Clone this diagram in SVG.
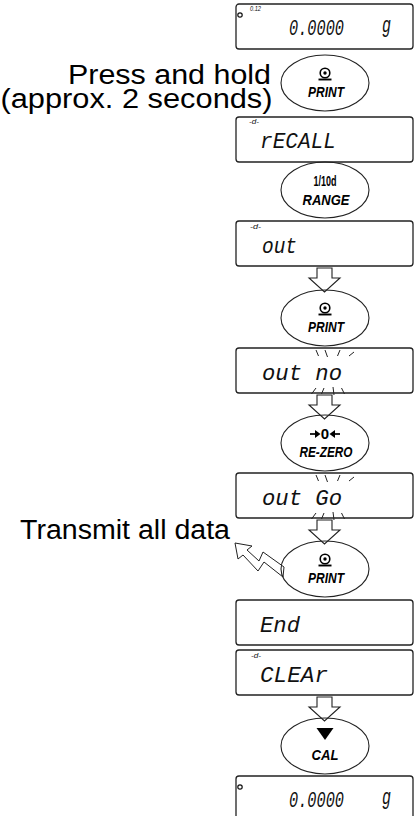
<svg xmlns="http://www.w3.org/2000/svg" width="416" height="816" viewBox="0 0 416 816">
<style>
.box{fill:#fff;stroke:#222;stroke-width:1.3}
.key{fill:none;stroke:#222;stroke-width:1.1}
.arr{fill:none;stroke:#222;stroke-width:1.1}
.flash{stroke:#222;stroke-width:1;fill:none}
.seg{font-family:"Liberation Mono","DejaVu Sans Mono",monospace;font-style:italic;font-size:22px;fill:#111}
.tiny{font-family:"Liberation Sans",Arial,sans-serif;font-style:italic;font-size:7px;fill:#111}
.kl{font-family:"Liberation Sans",Arial,sans-serif;font-weight:bold;font-style:italic;font-size:15px;fill:#000;text-anchor:middle}
.ku{font-family:"Liberation Sans",Arial,sans-serif;font-weight:bold;font-size:15px;fill:#000;text-anchor:middle}
.note{font-family:"Liberation Sans",Arial,sans-serif;font-size:27px;fill:#000}
</style>
<defs>
<g id="printsym">
<circle cx="0" cy="-10" r="4.8" fill="none" stroke="#000" stroke-width="1.6"/>
<circle cx="0" cy="-10" r="1.7" fill="#000"/>
<line x1="-6.5" y1="-3.5" x2="6.5" y2="-3.5" stroke="#000" stroke-width="1.9"/>
</g>
</defs>

<text class="note" x="271" y="84" text-anchor="end" textLength="203" lengthAdjust="spacingAndGlyphs">Press and hold</text>
<text class="note" x="0.5" y="108" textLength="272" lengthAdjust="spacingAndGlyphs">(approx. 2 seconds)</text>
<text class="note" x="20" y="539" font-size="28" textLength="210" lengthAdjust="spacingAndGlyphs">Transmit all data</text>

<g id="connectors">
<polygon class="arr" points="317,268 332,268 332,278 340,278 324.5,292 309,278 317,278"/>
<polygon class="arr" points="317,395 332,395 332,405 340,405 324.5,419 309,405 317,405"/>
<polygon class="arr" points="317,520 332,520 332,530 340,530 324.5,544 309,530 317,530"/>
<polygon class="arr" points="317,697 332,697 332,707 340,707 324.5,721 309,707 317,707"/>
<polygon fill="#fff" stroke="#222" stroke-width="1" points="235,543 252,546 247,550 259,561 263,552 284,567 283,577 264,562 258,571 243,555 238,559"/>
</g>

<g id="display1">
<rect class="box" x="236" y="4" width="177" height="45" rx="3"/>
<circle cx="240" cy="15" r="2.2" fill="none" stroke="#111" stroke-width="1.2"/>
<text class="tiny" x="250" y="11" textLength="11" lengthAdjust="spacingAndGlyphs">0.12</text>
<text class="seg" x="289" y="35" textLength="55" lengthAdjust="spacingAndGlyphs">0.0000</text>
<text class="seg" x="382" y="32" font-size="18" textLength="9" lengthAdjust="spacingAndGlyphs">g</text>
</g>

<g id="key-print1">
<ellipse class="key" cx="325" cy="83" rx="44" ry="28"/>
<use href="#printsym" x="325" y="83"/>
<text class="kl" x="326" y="97" textLength="36" lengthAdjust="spacingAndGlyphs">PRINT</text>
</g>

<g id="display2">
<rect class="box" x="236" y="117" width="177" height="45" rx="3"/>
<text class="tiny" x="249" y="124" textLength="10" lengthAdjust="spacingAndGlyphs">-d-</text>
<text class="seg" x="260" y="148" textLength="76" lengthAdjust="spacingAndGlyphs">rECALL</text>
</g>

<g id="key-range">
<ellipse class="key" cx="325" cy="190" rx="44" ry="28"/>
<text class="ku" x="325" y="186" textLength="23" lengthAdjust="spacingAndGlyphs">1/10d</text>
<text class="kl" x="326" y="205" textLength="47" lengthAdjust="spacingAndGlyphs">RANGE</text>
</g>

<g id="display3">
<rect class="box" x="236" y="221" width="177" height="45" rx="3"/>
<text class="tiny" x="250" y="229" textLength="11" lengthAdjust="spacingAndGlyphs">-d-</text>
<text class="seg" x="262" y="253" textLength="35" lengthAdjust="spacingAndGlyphs">out</text>
</g>

<g id="key-print2">
<ellipse class="key" cx="325" cy="318" rx="44" ry="28"/>
<use href="#printsym" x="325" y="318"/>
<text class="kl" x="326" y="332" textLength="36" lengthAdjust="spacingAndGlyphs">PRINT</text>
</g>

<g id="display4">
<rect class="box" x="236" y="348" width="177" height="45" rx="3"/>
<text class="seg" x="262" y="380" textLength="80" lengthAdjust="spacingAndGlyphs">out no</text>
<path class="flash" d="M316,350 L318.5,356 M325,350 L327.5,357 M340,350 L337.5,356 M354,352 L349,356 M316,388 L311.5,394 M324,388 L321.5,394 M333,387 L334,395 M341.5,388 L344.5,394"/>
</g>

<g id="key-rezero">
<ellipse class="key" cx="325" cy="443" rx="44" ry="28"/>
<text class="ku" x="325" y="439" font-weight="normal">0</text>
<path d="M310,434 L316,434" stroke="#000" stroke-width="1.7"/>
<polygon points="315,430 320.5,434 315,438" fill="#000"/>
<path d="M340,434 L334,434" stroke="#000" stroke-width="1.7"/>
<polygon points="335,430 329.5,434 335,438" fill="#000"/>
<text class="kl" x="326" y="457" textLength="53" lengthAdjust="spacingAndGlyphs">RE-ZERO</text>
</g>

<g id="display5">
<rect class="box" x="236" y="473" width="177" height="45" rx="3"/>
<text class="seg" x="262" y="505" textLength="80" lengthAdjust="spacingAndGlyphs">out Go</text>
<path class="flash" d="M316,475 L318.5,481 M325,475 L327.5,482 M340,475 L337.5,481 M354,477 L349,481 M316,513 L311.5,519 M324,513 L321.5,519 M333,512 L334,520 M341.5,513 L344.5,519"/>
</g>

<g id="key-print3">
<ellipse class="key" cx="325" cy="569" rx="44" ry="28"/>
<use href="#printsym" x="325" y="569"/>
<text class="kl" x="326" y="583" textLength="36" lengthAdjust="spacingAndGlyphs">PRINT</text>
</g>

<g id="display6">
<rect class="box" x="236" y="600" width="177" height="45" rx="3"/>
<text class="seg" x="260" y="632" textLength="40" lengthAdjust="spacingAndGlyphs">End</text>
</g>

<g id="display7">
<rect class="box" x="236" y="650" width="177" height="45" rx="3"/>
<text class="tiny" x="251" y="658" textLength="10" lengthAdjust="spacingAndGlyphs">-d-</text>
<text class="seg" x="260" y="682" textLength="68" lengthAdjust="spacingAndGlyphs">CLEAr</text>
</g>

<g id="key-cal">
<ellipse class="key" cx="325" cy="746" rx="44" ry="28"/>
<polygon points="316.5,728 333.5,728 325,740" fill="#000"/>
<text class="kl" x="325" y="760" textLength="27" lengthAdjust="spacingAndGlyphs">CAL</text>
</g>

<g id="display8">
<rect class="box" x="236" y="776" width="177" height="45" rx="3"/>
<circle cx="240" cy="787" r="2.2" fill="none" stroke="#111" stroke-width="1.2"/>
<text class="seg" x="289" y="807" textLength="55" lengthAdjust="spacingAndGlyphs">0.0000</text>
<text class="seg" x="382" y="804" font-size="18" textLength="9" lengthAdjust="spacingAndGlyphs">g</text>
</g>
</svg>
